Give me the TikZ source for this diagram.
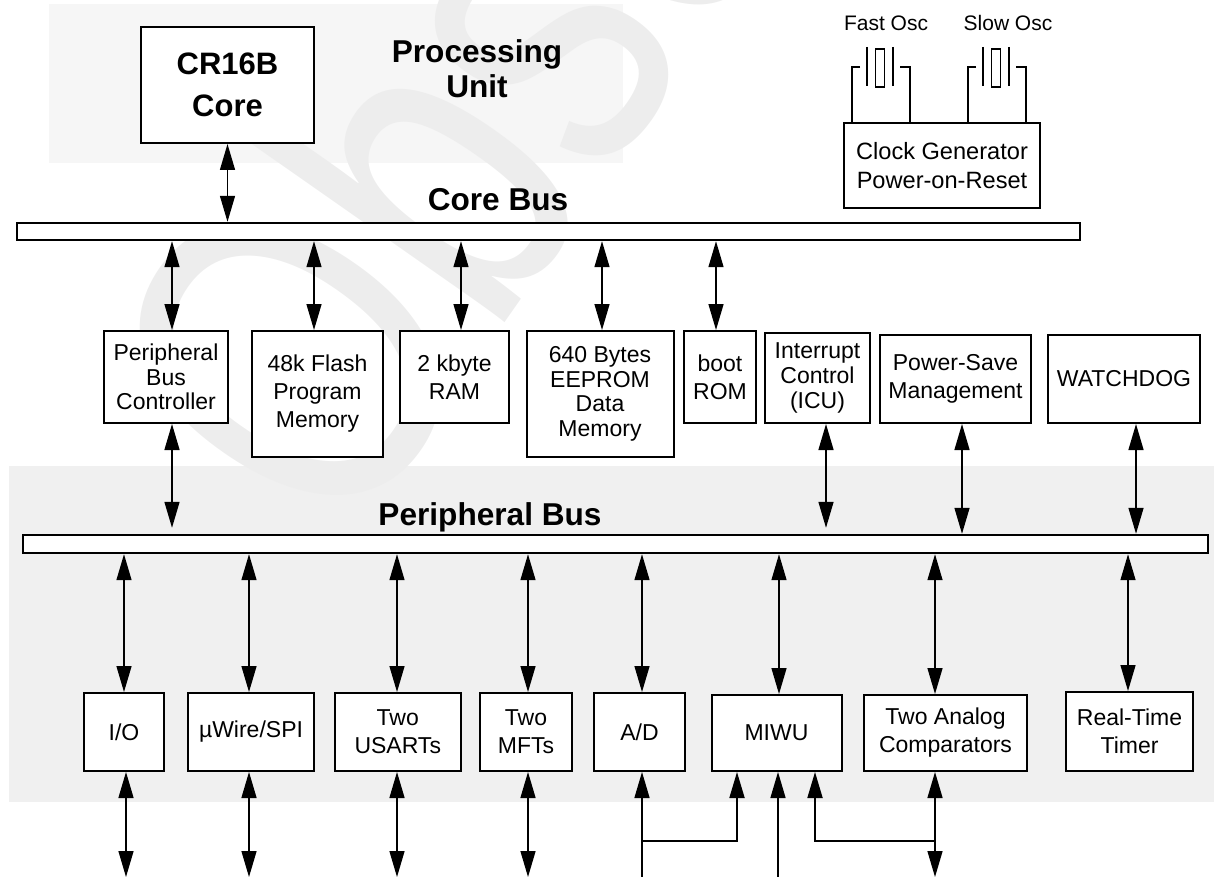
\documentclass[tikz,border=0pt]{standalone}
\usepackage{fontspec}
\setmainfont{Liberation Sans}
\usetikzlibrary{arrows.meta}

\tikzset{
  blk/.style={draw, line width=1pt, fill=white, align=center, inner sep=1pt,
    font=\fontsize{11.5}{14}\selectfont},
  tight/.style={font=\fontsize{11.5}{12.3}\selectfont},
  bus/.style={draw, line width=1.2pt, fill=white, inner sep=0pt},
  title/.style={align=center, font=\bfseries\fontsize{15.8}{17.5}\selectfont},
  wmark/.style={text=gray!14, inner sep=0pt, font=\fontsize{225}{225}\selectfont},
  dbl/.style={{Triangle[length=13pt,width=7.5pt]}-{Triangle[length=13pt,width=7.5pt]}, line width=0.7pt},
  uarr/.style={-{Triangle[length=13pt,width=7.5pt]}, line width=0.7pt},
}

\begin{document}
\begin{tikzpicture}[x=0.5pt, y=-0.5pt]
  \useasboundingbox (0,0) rectangle (1214,877);

  % shaded areas
  \fill[gray!7] (49,4) rectangle (623,163);
  \fill[gray!12] (9,466) rectangle (1214,802);

  % watermark
  \begin{scope}
    \clip (0,0) rectangle (1214,877);
    \node[wmark, rotate=55, xscale=0.75, anchor=base west] (wm) at (342,556) {Obsolete};
  \end{scope}

  % processing unit
  \node[blk, minimum width=86.5pt, minimum height=58pt,
    font=\bfseries\fontsize{15.5}{21}\selectfont] (core) at (227.5,85) {CR16B\\Core};
  \node[title] (pu) at (477,69) {Processing\\Unit};

  % buses
  \node[title] (cbuslbl) at (498,200) {Core Bus};
  \node[bus, minimum width=531.5pt, minimum height=8.5pt] (cbus) at (548.5,231.5) {};
  \node[title] (pbuslbl) at (490,517) {Peripheral Bus};
  \node[bus, minimum width=592.5pt, minimum height=9pt] (pbus) at (615.5,544) {};

  % clock
  \node[blk, minimum width=98pt, minimum height=42.5pt, font=\fontsize{11.8}{14.5}\selectfont]
    (clk) at (942,165.5) {Clock Generator\\Power-on-Reset};
  \node[font=\fontsize{10.5}{12}\selectfont] (fastlbl) at (886,23) {Fast Osc};
  \node[font=\fontsize{10.5}{12}\selectfont] (slowlbl) at (1008,23) {Slow Osc};
  \foreach \c in {880,996} {
    \draw[line width=0.6pt] (\c-13,47) -- (\c-13,86);
    \draw[line width=0.6pt] (\c+13,47) -- (\c+13,86);
    \draw[line width=0.6pt] (\c-4.5,49) rectangle (\c+4.5,87);
    \draw[line width=0.6pt] (\c-20,67) -- (\c-28,67) -- (clk.north -| \c-28,0);
    \draw[line width=0.6pt] (\c+20,67) -- (\c+30,67) -- (clk.north -| \c+30,0);
  }

  % core bus blocks
  \node[blk, tight, minimum width=62pt, minimum height=46pt] (pbc) at (166,377) {Peripheral\\Bus\\Controller};
  \node[blk, minimum width=65.5pt, minimum height=63pt] (flash) at (317.5,394) {48k Flash\\Program\\Memory};
  \node[blk, minimum width=54.5pt, minimum height=46pt] (ram) at (454.5,377) {2 kbyte\\RAM};
  \node[blk, tight, minimum width=73.5pt, minimum height=63pt] (eeprom) at (600,394) {640 Bytes\\EEPROM\\Data\\Memory};
  \node[blk, minimum width=36pt, minimum height=46pt] (boot) at (720,377) {boot\\ROM};
  \node[blk, tight, minimum width=52.5pt, minimum height=45pt] (icu) at (817.5,378) {Interrupt\\Control\\(ICU)};
  \node[blk, minimum width=75.5pt, minimum height=44pt] (psave) at (955.5,379) {Power-Save\\Management};
  \node[blk, minimum width=76pt, minimum height=44pt] (wdog) at (1124,379) {WATCHDOG};

  % peripheral bus blocks
  \node[blk, minimum width=40pt, minimum height=39pt] (io) at (124,732) {I/O};
  \node[blk, minimum width=63pt, minimum height=39pt] (uwire) at (251,732) {µWire/SPI};
  \node[blk, minimum width=63.25pt, minimum height=39pt] (usart) at (397.75,732) {Two\\USARTs};
  \node[blk, minimum width=46pt, minimum height=39pt] (mft) at (526,732) {Two\\MFTs};
  \node[blk, minimum width=45.5pt, minimum height=39pt] (ad) at (639.5,732) {A/D};
  \node[blk, minimum width=65pt, minimum height=38pt] (miwu) at (776.5,733) {MIWU};
  \node[blk, minimum width=81.5pt, minimum height=38pt] (comp) at (945.5,733) {Two Analog\\Comparators};
  \node[blk, minimum width=63.5pt, minimum height=39.5pt] (rtt) at (1129.5,731.5) {Real-Time\\Timer};

  \coordinate (pins) at (0,877);
  \coordinate (adj) at (642,841);
  \coordinate (cpj) at (935,841);

  % connections
  \draw[dbl] (core.south) -- (core.south |- cbus.north);
  \foreach \b/\x in {pbc/172, flash/314, ram/461, eeprom/602, boot/716}
    \draw[dbl] (cbus.south -| \x,0) -- (\b.north -| \x,0);
  \foreach \b/\x in {pbc/172, icu/826}
    \draw[dbl, shorten >=3pt] (\b.south -| \x,0) -- (pbus.north -| \x,0);
  \foreach \b/\x in {psave/962, wdog/1136}
    \draw[dbl] (\b.south -| \x,0) -- (pbus.north -| \x,0);
  \foreach \b/\x in {io/124, uwire/249, usart/397, mft/528, ad/642, miwu/779, comp/935, rtt/1128}
    \draw[dbl] (pbus.south -| \x,0) -- (\b.north -| \x,0);
  \foreach \b/\x in {io/126, uwire/249, usart/397, mft/528, comp/935}
    \draw[dbl] (\b.south -| \x,0) -- (pins -| \x,0);
  \draw[uarr] (pins -| 642,0) -- (ad.south -| 642,0);
  \draw[uarr] (pins -| 778,0) -- (miwu.south -| 778,0);
  \draw[uarr, line width=0.9pt] (adj) -| (miwu.south -| 737,0);
  \draw[uarr, line width=0.9pt] (cpj) -| (miwu.south -| 815,0);
\end{tikzpicture}
\end{document}
